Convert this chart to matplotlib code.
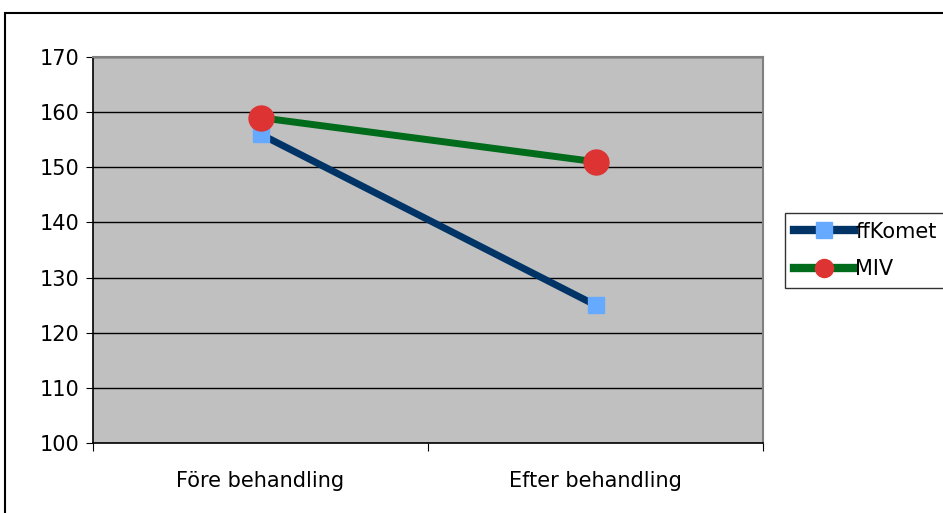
import matplotlib
matplotlib.use("Agg")
import matplotlib.pyplot as plt
from matplotlib.patches import Rectangle

categories = ["Före behandling", "Efter behandling"]
ffkomet = [156, 125]
miv = [159, 151]
yticks = [100, 110, 120, 130, 140, 150, 160, 170]

plt.rcParams['font.family'] = ['DejaVu Sans']

W, H = 943, 513
fig = plt.figure(figsize=(W / 100, H / 100), dpi=100)
fig.patch.set_facecolor('white')

# outer frame
fig.add_artist(Rectangle((5 / W, -0.1), 1.2, 1 - 13 / H + 0.1, transform=fig.transFigure,
                         fill=False, edgecolor='black', linewidth=1.5))

ax = fig.add_axes([93 / W, 1 - 443 / H, (763 - 93) / W, (443 - 57) / H])
ax.set_facecolor('#C0C0C0')
x = list(range(len(categories)))
ax.plot(x, ffkomet, color='#003366', linewidth=5, marker='s', markersize=11,
        markerfacecolor='#66AAFF', markeredgecolor='#66AAFF', label='ffKomet', zorder=3)
ax.plot(x, miv, color='#006B1A', linewidth=5, marker='o', markersize=18,
        markerfacecolor='#DD3333', markeredgecolor='#DD3333', label='MIV', zorder=3)
ax.set_xlim(-0.5, 1.5)
ax.set_ylim(100, 170)
ax.set_yticks(yticks)
ax.set_yticklabels([str(v) for v in yticks])
ax.yaxis.grid(True, color='black', linewidth=1)
ax.set_axisbelow(True)
ax.set_xticks([-0.5, 0.5, 1.5], minor=False)
ax.set_xticklabels(['', '', ''])
ax.set_xticks(x, minor=True)
ax.set_xticklabels(categories, minor=True)
ax.tick_params(axis='x', which='minor', length=0, pad=20, labelsize=15)
ax.tick_params(axis='x', which='major', length=6, direction='out', color='black')
ax.tick_params(axis='y', length=5, direction='out', labelsize=15, pad=5)
for s in ['top', 'right']:
    ax.spines[s].set_color('#808080')
    ax.spines[s].set_linewidth(1.5)
for s in ['left', 'bottom']:
    ax.spines[s].set_color('black')
    ax.spines[s].set_linewidth(1.2)

leg = fig.legend(loc='upper left', bbox_to_anchor=(785 / W, 1 - 213 / H), fontsize=15,
                 frameon=True, fancybox=False, edgecolor='black', handlelength=2.9,
                 handletextpad=0.05, borderpad=0.42, labelspacing=0.85, borderaxespad=0)
leg.get_frame().set_linewidth(1.0)
leg.legend_handles[1].set_markersize(13)
for h in leg.legend_handles:
    h.set_linewidth(6)

fig.savefig('out.png', dpi=100)
